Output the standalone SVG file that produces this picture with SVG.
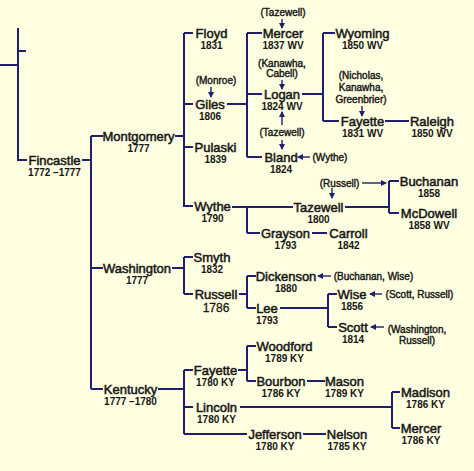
<svg xmlns="http://www.w3.org/2000/svg" width="474" height="471" viewBox="0 0 474 471">
<style>
.bg{fill:#FEFEE0}
.ln{stroke:#1f1f6e;stroke-width:2;fill:none}
.ar{stroke:#1f1f6e;stroke-width:1.4;fill:none;marker-end:url(#ah)}
text{font-family:"Liberation Sans",Arial,sans-serif;fill:#161616;text-anchor:middle}
.n{font-size:13px;stroke:#161616;stroke-width:0.5}
.y{font-size:10px;font-weight:bold}
.y2{font-size:12px;stroke:#161616;stroke-width:0.3}
.p{font-size:10px;stroke:#161616;stroke-width:0.4}
</style>
<defs>
<marker id="ah" markerUnits="userSpaceOnUse" markerWidth="6" markerHeight="6" refX="5" refY="3" orient="auto">
<path d="M0,0 L6,3 L0,6 z" fill="#1f1f6e"/>
</marker>
</defs>
<rect class="bg" x="0" y="0" width="474" height="471"/>
<g id="connectors">
<path class="ln" d="M18,28 V161 M0,65 H18 M18,51 H26 M18,160 H27"/>
<path class="ln" d="M82,160 H91 M91,136 V389 M91,136 H103 M91,268 H103 M91,389 H103"/>
<path class="ln" d="M175,136 H184 M184,33 V207 M184,33 H193 M184,104 H193 M184,147 H193 M184,206 H193"/>
<path class="ln" d="M227,104 H247 M247,33 V157 M247,33 H262 M247,94 H262 M247,157 H262"/>
<path class="ln" d="M302,94 H323 M323,33 V121 M323,33 H335 M323,121 H339 M385,121 H409"/>
<path class="ln" d="M232,207 H293 M247,207 V233 M247,233 H260 M312,233 H327"/>
<path class="ln" d="M345,207 H389 M389,181 V213 M389,181 H399 M389,213 H399"/>
<path class="ln" d="M172,268 H184 M184,257 V294 M184,257 H193 M184,294 H193"/>
<path class="ln" d="M239,294 H247 M247,276 V308 M247,276 H256 M247,308 H256 M280,308 H328 M328,294 V327 M328,294 H337 M328,327 H337"/>
<path class="ln" d="M158,389 H184 M184,370 V434 M184,370 H193 M184,407 H193 M184,434 H247 M303,434 H326"/>
<path class="ln" d="M238,370 H247 M247,346 V381 M247,346 H256 M247,381 H256 M307,381 H325"/>
<path class="ln" d="M240,407 H392 M392,392 V428 M392,392 H400 M392,428 H400"/>
<path class="ar" d="M282,19 V28"/>
<path class="ar" d="M211,87 V97"/>
<path class="ar" d="M282,80 V89"/>
<path class="ar" d="M282,125 V112"/>
<path class="ar" d="M282,140 V149"/>
<path class="ar" d="M310,157 H298"/>
<path class="ar" d="M362,106 V116"/>
<path class="ar" d="M362,183 H386"/>
<path class="ar" d="M332,188 V198"/>
<path class="ar" d="M331,276 H318"/>
<path class="ar" d="M382,294 H370"/>
<path class="ar" d="M384,327 H371"/>
</g>
<g id="fincastle"><text class="n" x="54.5" y="165">Fincastle</text><text class="y" x="54.5" y="176">1772 –1777</text></g>
<g id="montgomery"><text class="n" x="138.5" y="141">Montgomery</text><text class="y" x="138.5" y="152">1777</text></g>
<g id="washington"><text class="n" x="137" y="273">Washington</text><text class="y" x="137" y="284">1777</text></g>
<g id="kentucky"><text class="n" x="130.5" y="394">Kentucky</text><text class="y" x="130.5" y="405">1777 –1780</text></g>
<g id="floyd"><text class="n" x="211.5" y="38">Floyd</text><text class="y" x="211.5" y="49">1831</text></g>
<g id="giles"><text class="p" x="216" y="84">(Monroe)</text><text class="n" x="210" y="109">Giles</text><text class="y" x="210" y="120">1806</text></g>
<g id="pulaski"><text class="n" x="215.5" y="152">Pulaski</text><text class="y" x="215.5" y="163">1839</text></g>
<g id="wythe"><text class="n" x="212.5" y="211">Wythe</text><text class="y" x="212.5" y="222">1790</text></g>
<g id="mercer-wv"><text class="p" x="283" y="16">(Tazewell)</text><text class="n" x="283" y="38">Mercer</text><text class="y" x="283" y="49">1837 WV</text></g>
<g id="logan"><text class="p" x="282" y="67">(Kanawha,</text><text class="p" x="282" y="77">Cabell)</text><text class="n" x="282" y="99">Logan</text><text class="y" x="282" y="110">1824 WV</text></g>
<g id="bland"><text class="p" x="282" y="136">(Tazewell)</text><text class="n" x="281" y="162">Bland</text><text class="y" x="281" y="173">1824</text><text class="p" x="330" y="161">(Wythe)</text></g>
<g id="wyoming"><text class="n" x="362.5" y="38">Wyoming</text><text class="y" x="362.5" y="49">1850 WV</text></g>
<g id="fayette-wv"><text class="p" x="361" y="79">(Nicholas,</text><text class="p" x="361" y="91">Kanawha,</text><text class="p" x="361" y="103">Greenbrier)</text><text class="n" x="362.5" y="126">Fayette</text><text class="y" x="362.5" y="137">1831 WV</text></g>
<g id="raleigh"><text class="n" x="432" y="126">Raleigh</text><text class="y" x="432" y="137">1850 WV</text></g>
<g id="tazewell"><text class="p" x="339.5" y="187">(Russell)</text><text class="n" x="318.5" y="212">Tazewell</text><text class="y" x="318.5" y="223">1800</text></g>
<g id="buchanan"><text class="n" x="429" y="186">Buchanan</text><text class="y" x="429" y="197">1858</text></g>
<g id="mcdowell"><text class="n" x="429" y="218">McDowell</text><text class="y" x="429" y="229">1858 WV</text></g>
<g id="grayson"><text class="n" x="285.5" y="238">Grayson</text><text class="y" x="285.5" y="249">1793</text></g>
<g id="carroll"><text class="n" x="348.5" y="238">Carroll</text><text class="y" x="348.5" y="249">1842</text></g>
<g id="smyth"><text class="n" x="212" y="262">Smyth</text><text class="y" x="212" y="273">1832</text></g>
<g id="russell"><text class="n" x="216" y="299">Russell</text><text class="y2" x="216" y="312">1786</text></g>
<g id="dickenson"><text class="n" x="286" y="281">Dickenson</text><text class="y" x="286" y="292">1880</text><text class="p" x="373.5" y="280">(Buchanan, Wise)</text></g>
<g id="lee"><text class="n" x="267" y="313">Lee</text><text class="y" x="267" y="324">1793</text></g>
<g id="wise"><text class="n" x="352" y="299">Wise</text><text class="y" x="352" y="310">1856</text><text class="p" x="419.5" y="298">(Scott, Russell)</text></g>
<g id="scott"><text class="n" x="353" y="332">Scott</text><text class="y" x="353" y="343">1814</text><text class="p" x="417" y="333">(Washington,</text><text class="p" x="417" y="344">Russell)</text></g>
<g id="fayette-ky"><text class="n" x="215.5" y="375">Fayette</text><text class="y" x="215.5" y="386">1780 KY</text></g>
<g id="lincoln"><text class="n" x="216.5" y="412">Lincoln</text><text class="y" x="216.5" y="423">1780 KY</text></g>
<g id="woodford"><text class="n" x="284.5" y="351">Woodford</text><text class="y" x="284.5" y="362">1789 KY</text></g>
<g id="bourbon"><text class="n" x="281" y="386">Bourbon</text><text class="y" x="281" y="397">1786 KY</text></g>
<g id="mason"><text class="n" x="344.5" y="386">Mason</text><text class="y" x="344.5" y="397">1789 KY</text></g>
<g id="madison"><text class="n" x="425.5" y="397">Madison</text><text class="y" x="425.5" y="408">1786 KY</text></g>
<g id="mercer-ky"><text class="n" x="421" y="433">Mercer</text><text class="y" x="421" y="444">1786 KY</text></g>
<g id="jefferson"><text class="n" x="275" y="439">Jefferson</text><text class="y" x="275" y="450">1780 KY</text></g>
<g id="nelson"><text class="n" x="347" y="439">Nelson</text><text class="y" x="347" y="450">1785 KY</text></g>
</svg>
